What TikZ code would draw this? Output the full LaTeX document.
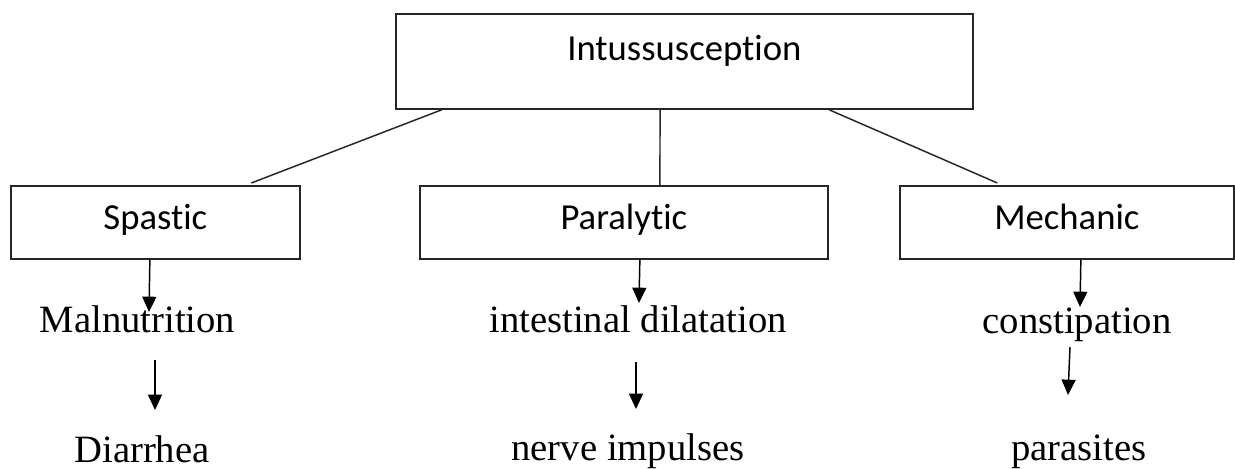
\documentclass[tikz,border=0pt]{standalone}
\usepackage{fontspec}
\setmainfont{Liberation Serif}
\newfontfamily\calib[Ligatures=NoCommon]{Carlito}
\usetikzlibrary{arrows.meta,calc}

\begin{document}
\begin{tikzpicture}[
    x=0.75pt, y=-0.75pt,
    box/.style={draw=black!85, line width=1.3pt, inner sep=0pt, anchor=north west,
                minimum height=54.75pt, text height=20pt, text depth=10pt,
                font=\calib\fontsize{27.5}{32}\selectfont},
    topbox/.style={box, minimum height=71.25pt},
    txt/.style={inner sep=0pt, anchor=base, font=\fontsize{29}{34}\selectfont},
    conn/.style={draw=black!85, line width=1.1pt},
    arr/.style={draw=black, line width=1.1pt, -{Triangle[width=10.5pt,length=11.5pt]}}
]
  \useasboundingbox (0,0) rectangle (1235,468);

  % ===== main box =====
  \node[topbox, minimum width=432.75pt,
        label={[anchor=base, yshift=-35.5pt, font=\calib\fontsize{27.5}{32}\selectfont]north:Intussusception}]
        (intu) at (395,13) {};

  % ===== types =====
  \node[box, minimum width=216.75pt] (spastic) at (10,185) {Spastic};
  \node[box, minimum width=306pt] (para) at (419,185) {Paralytic};
  \node[box, minimum width=250.5pt] (mech) at (899,185) {Mechanic};

  \draw[conn] ($(intu.south west)!0.081!(intu.south east)$) -- ($(spastic.north west)!0.83!(spastic.north east)+(0,-2)$);
  \draw[conn] ($(intu.south west)!0.458!(intu.south east)$) -- ($(para.north west)!0.588!(para.north east)$);
  \draw[conn] ($(intu.south west)!0.750!(intu.south east)$) -- ($(mech.north west)!0.293!(mech.north east)+(0,-2)$);

  % ===== causes / effects =====
  \node[txt] (malnu) at (137.5,332) {Malnutrition};
  \node[txt] (diarr) at (142,462) {Diarrhea};
  \node[txt] (intdil) at (638,332) {intestinal dilatation};
  \node[txt] (nerve) at (628,460) {nerve impulses};
  \node[txt] (const) at (1077,333) {constipation};
  \node[txt] (paras) at (1079,460) {parasites};

  \draw[arr] ($(spastic.south)+(-5.5,0)$) -- ($(malnu.base)+(11.5,-20)$);
  \draw[arr] ($(malnu.base)+(17.5,28)$) -- ($(diarr.base)+(13,-52)$);
  \draw[arr] ($(para.south)+(16,0)$) -- ($(intdil.base)+(1,-29)$);
  \draw[arr] ($(intdil.base)+(-2,30)$) -- ($(nerve.base)+(8,-51)$);
  \draw[arr] ($(mech.south)+(14,0)$) -- ($(const.base)+(3,-26)$);
  \draw[arr] ($(const.base)+(-7,14)$) -- ($(paras.base)+(-11,-65)$);
\end{tikzpicture}
\end{document}
